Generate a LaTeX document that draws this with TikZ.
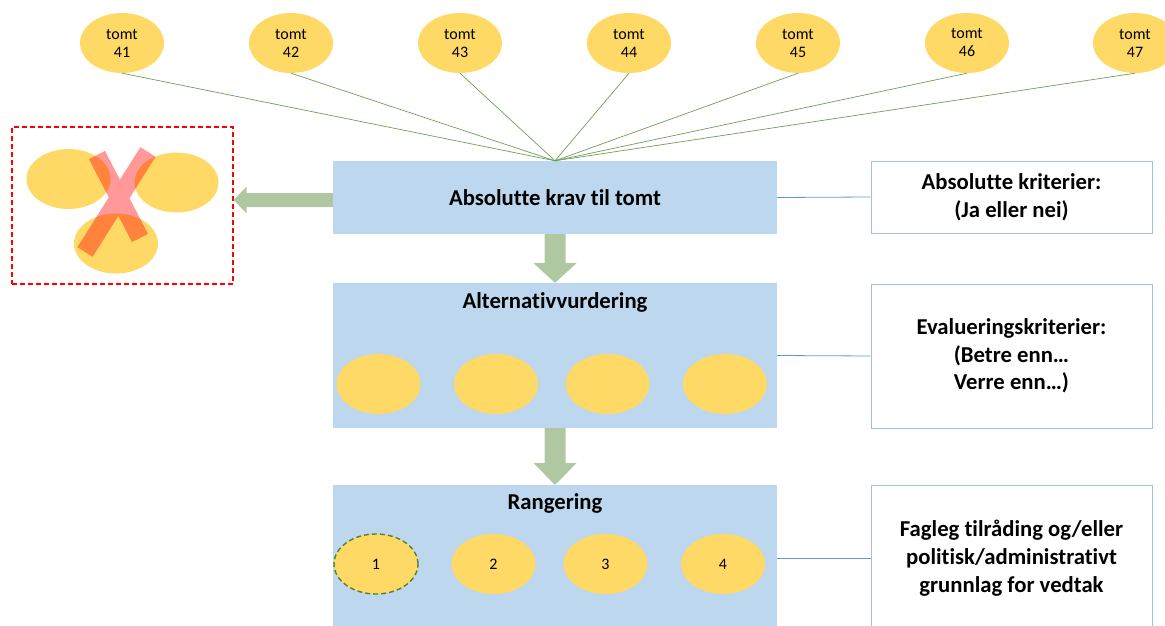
\documentclass[tikz,border=0pt]{standalone}
\usepackage{fontspec}
\setmainfont{Carlito}[Ligatures=CommonOff]
\usetikzlibrary{shapes.geometric,calc}
\definecolor{boxblue}{HTML}{BDD7EE}
\definecolor{ellyellow}{HTML}{FFD966}
\definecolor{arrowgreen}{HTML}{B0C8A2}
\definecolor{linegreen}{HTML}{6E9E55}
\definecolor{dashgreen}{HTML}{548235}
\definecolor{rightborder}{HTML}{9DC3E6}
\definecolor{connblue}{HTML}{5B9BD5}
\definecolor{xpink}{HTML}{FF9999}
\begin{document}
\begin{tikzpicture}[x=1pt,y=-1pt,
  yel/.style={ellipse, fill=ellyellow, minimum width=84pt, minimum height=60pt, inner sep=0pt,
    font=\fontsize{16}{18}\selectfont, align=center},
  stage/.style={rectangle, fill=boxblue, minimum width=444pt, inner sep=0pt},
  title/.style={font=\fontsize{22.7}{27}\selectfont\bfseries},
  crit/.style={rectangle, draw=rightborder, line width=1pt, fill=white, minimum width=281pt,
    inner sep=0pt, align=center, font=\fontsize{22.7}{27.7}\selectfont\bfseries},
  spoke/.style={draw=linegreen, line width=0.7pt},
  conn/.style={draw=connblue, line width=0.8pt},
  blockarrow/.style={fill=arrowgreen}
]
\useasboundingbox (0,0) rectangle (1165,626);
\clip (0,0) rectangle (1165,626);

% stage boxes
\node[stage, minimum height=73pt] (abs) at (555,197.5) {};
\node[title] (abst) at (555,197.5) {Absolutte krav til tomt};
\node[stage, minimum height=145pt] (alt) at (555,355.5) {};
\node[title] (altt) at (555,302) {Alternativvurdering};
\node[stage, minimum height=145pt] (rang) at (555,557.5) {};
\node[title] (rangt) at (555,503) {Rangering};

% top ellipses
\foreach \i/\x in {41/122,42/291,43/460,44/629,45/798,46/967,47/1135}{
  \node[yel] (t\i) at (\x,43) {tomt\\\i};
  \draw[spoke] (t\i.south) -- (abs.north);
}

% alternative ellipses
\node[yel] (a1) at (378.5,384) {};
\node[yel] (a2) at (496,384) {};
\node[yel] (a3) at (607.5,384) {};
\node[yel] (a4) at (725,384) {};

% ranked ellipses
\node[yel, draw=dashgreen, line width=1.4pt, dash pattern=on 5pt off 3pt] (r1) at (376,564) {1};
\node[yel] (r2) at (493.5,564) {2};
\node[yel] (r3) at (605.5,564) {3};
\node[yel] (r4) at (723,564) {4};

% right criteria boxes
\node[crit, minimum height=72pt] (k1) at (1011.5,197) {Absolutte kriterier:\\(Ja eller nei)};
\node[crit, minimum height=144pt] (k2) at (1011.5,356) {Evalueringskriterier:\\(Betre enn…\\Verre enn…)};
\node[crit, minimum height=146pt] (k3) at (1011.5,558) {Fagleg tilråding og/eller\\politisk/administrativt\\grunnlag for vedtak};
\draw[conn] (abs.east) -- (k1.west);
\draw[conn] (alt.east) -- (k2.west);
\draw[conn] (rang.east |- k3.west) -- (k3.west);

% down block arrows
\fill[blockarrow] ($(abs.south)+(-10.5,0)$) -- ($(abs.south)+(10.5,0)$) -- ($(abs.south)+(10.5,29)$)
  -- ($(abs.south)+(21.5,29)$) -- (alt.north) -- ($(abs.south)+(-21.5,29)$) -- ($(abs.south)+(-10.5,29)$) -- cycle;
\fill[blockarrow] ($(alt.south)+(-10.5,0)$) -- ($(alt.south)+(10.5,0)$) -- ($(alt.south)+(10.5,35)$)
  -- ($(alt.south)+(21.5,35)$) -- (rang.north) -- ($(alt.south)+(-21.5,35)$) -- ($(alt.south)+(-10.5,35)$) -- cycle;

% rejected group
\node[rectangle, draw=red, line width=1.4pt, dash pattern=on 5pt off 3pt, minimum width=221pt,
  minimum height=157pt, inner sep=0pt] (rej) at (122.5,205.5) {};
\node[yel] (x1) at (68.5,179) {};
\node[yel] (x2) at (176.5,182.5) {};
\node[yel] (x3) at (116,243.5) {};
\coordinate (xa) at (97,155);
\coordinate (xb) at (140,238);
\coordinate (xc) at (148,152);
\coordinate (xd) at (85,252);
\draw[xpink, line width=18pt, blend mode=multiply] (xa) -- (xb) (xc) -- (xd);

% left block arrow
\coordinate (la) at ($(abs.west)+(0,2.5)$);
\coordinate (lt) at (rej.east |- la);
\fill[blockarrow] ($(la)+(0,-7)$) -- ($(la)+(0,7)$) -- ($(lt)+(13,7)$) -- ($(lt)+(13,13.5)$)
  -- (lt) -- ($(lt)+(13,-13.5)$) -- ($(lt)+(13,-7)$) -- cycle;
\end{tikzpicture}
\end{document}
